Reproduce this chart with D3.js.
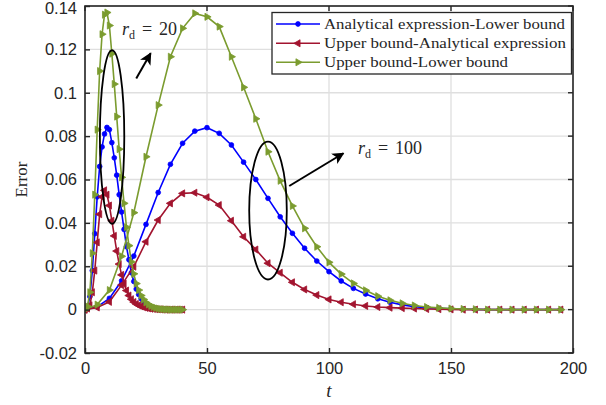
<!DOCTYPE html>
<html>
<head>
<meta charset="utf-8">
<script src="https://cdn.jsdelivr.net/npm/d3@7"></script>
<style>
  body { margin: 0; background: #fff; }
  svg text { fill: #262626; }
</style>
</head>
<body>
<div id="chart"></div>
<script>
// time axes of the two cases
var tRd20 = d3.range(0, 41, 1);
var tRd100 = d3.range(0, 200, 5);

// r_d = 20 (fast case)
var blueRd20 = [0, 0.001, 0.006, 0.018, 0.035, 0.052, 0.066, 0.075, 0.081, 0.084, 0.083, 0.077, 0.07, 0.062, 0.053,
  0.045, 0.037, 0.029, 0.023, 0.017, 0.013, 0.0095, 0.007, 0.005, 0.0036, 0.0025, 0.0018, 0.0012, 0.0008, 0.0005,
  0.0003, 0.0002, 0.0001, 0.0001, 0, 0, 0, 0, 0, 0, 0];
var redRd20 = [0, 0.0005, 0.002, 0.008, 0.018, 0.031, 0.044, 0.052, 0.055, 0.053, 0.048, 0.041, 0.034, 0.027, 0.021,
  0.016, 0.012, 0.0088, 0.0065, 0.0048, 0.0035, 0.0026, 0.002, 0.0015, 0.0011, 0.0008, 0.0006, 0.0004, 0.0003, 0.0002,
  0.0001, 0.0001, 0, 0, 0, 0, 0, 0, 0, 0, 0];
var greenRd20 = [0, 0.0015, 0.008, 0.026, 0.053, 0.083, 0.11, 0.127, 0.136, 0.137, 0.131, 0.118, 0.104, 0.089, 0.074,
  0.061, 0.049, 0.038, 0.0295, 0.022, 0.0165, 0.012, 0.009, 0.0065, 0.0047, 0.0033, 0.0024, 0.0017, 0.0012, 0.0008,
  0.0005, 0.0003, 0.0002, 0.0001, 0.0001, 0, 0, 0, 0, 0, 0];

// r_d = 100 (slow case)
var blueRd100 = [0, 0.0013, 0.0052, 0.0133, 0.0247, 0.0393, 0.054, 0.067, 0.0767, 0.0823, 0.0839, 0.0813, 0.0759,
  0.068, 0.06, 0.0513, 0.0428, 0.0352, 0.0283, 0.0224, 0.0175, 0.0132, 0.0098, 0.0072, 0.005, 0.0034, 0.0022, 0.0014,
  0.0009, 0.0006, 0.0004, 0.0002, 0.0001, 0, 0, 0, 0, 0, 0, 0];
var redRd100 = [0, 0.001, 0.0036, 0.0113, 0.0198, 0.0313, 0.0413, 0.049, 0.0536, 0.0539, 0.0518, 0.0482, 0.041,
  0.0336, 0.0277, 0.0214, 0.017, 0.0126, 0.0093, 0.0067, 0.0047, 0.0034, 0.0025, 0.0017, 0.0012, 0.0009, 0.0007,
  0.0005, 0.0003, 0.0002, 0.0001, 0, 0, 0, 0, 0, 0, 0, 0, 0];
var greenRd100 = [0, 0.0023, 0.009, 0.0246, 0.0447, 0.0705, 0.0943, 0.1166, 0.1297, 0.1366, 0.135, 0.1305, 0.1166,
  0.1025, 0.088, 0.0728, 0.0594, 0.0478, 0.0375, 0.029, 0.0218, 0.0164, 0.0121, 0.0089, 0.0062, 0.0043, 0.0029,
  0.0019, 0.0012, 0.0008, 0.0005, 0.0003, 0.0002, 0, 0, 0, 0, 0, 0, 0];

var legendLabels = [
  "Analytical expression-Lower bound",
  "Upper bound-Analytical expression",
  "Upper bound-Lower bound",
];
var xTicks = [0, 50, 100, 150, 200];
var yTicks = [-0.02, 0, 0.02, 0.04, 0.06, 0.08, 0.1, 0.12, 0.14];

var series = [
  { color: "#0000ff", marker: "dot", rd20: blueRd20, rd100: blueRd100 },
  { color: "#a2142f", marker: "left", rd20: redRd20, rd100: redRd100 },
  { color: "#7b9c2f", marker: "right", rd20: greenRd20, rd100: greenRd100 },
];

var W = 606, H = 405;
var plot = { left: 85, right: 573, top: 6, bottom: 353 };

var svg = d3.select("#chart").append("svg")
  .attr("width", W).attr("height", H)
  .style("font-family", "'Liberation Sans', Arial, sans-serif");

svg.append("defs").append("marker")
  .attr("id", "arrow")
  .attr("viewBox", "0 0 10 10")
  .attr("refX", 9).attr("refY", 5)
  .attr("markerWidth", 6).attr("markerHeight", 6)
  .attr("markerUnits", "strokeWidth")
  .attr("orient", "auto")
  .append("path").attr("d", "M0,0 L10,5 L0,10 L2.5,5 Z").attr("fill", "#000");

var x = d3.scaleLinear().domain([0, 200]).range([plot.left, plot.right]);
var y = d3.scaleLinear().domain([-0.02, 0.14]).range([plot.bottom, plot.top]);

// grid
svg.append("g").selectAll("line").data(xTicks).enter().append("line")
  .attr("x1", d => x(d)).attr("x2", d => x(d))
  .attr("y1", plot.top).attr("y2", plot.bottom)
  .attr("stroke", "#dfdfdf").attr("stroke-width", 1.3);
svg.append("g").selectAll("line").data(yTicks).enter().append("line")
  .attr("x1", plot.left).attr("x2", plot.right)
  .attr("y1", d => y(d)).attr("y2", d => y(d))
  .attr("stroke", "#dfdfdf").attr("stroke-width", 1.3);

// series
var line = d3.line().x(d => x(d[0])).y(d => y(d[1]));
var triangle = d3.symbol().type(d3.symbolTriangle).size(22);
var dot = d3.symbol().type(d3.symbolCircle).size(18);

function drawMarkers(g, pts, s) {
  var sel = g.selectAll("path.m").data(pts).enter().append("path")
    .attr("class", "m")
    .attr("fill", s.color).attr("stroke", s.color).attr("stroke-width", 0.8);
  if (s.marker === "dot") {
    sel.attr("d", dot).attr("transform", d => "translate(" + x(d[0]) + "," + y(d[1]) + ")");
  } else {
    var rot = s.marker === "left" ? -90 : 90;
    sel.attr("d", triangle)
      .attr("transform", d => "translate(" + x(d[0]) + "," + y(d[1]) + ") rotate(" + rot + ")");
  }
}

svg.append("clipPath").attr("id", "clip").append("rect")
  .attr("x", plot.left).attr("y", plot.top)
  .attr("width", plot.right - plot.left).attr("height", plot.bottom - plot.top);

var lines = svg.append("g").attr("clip-path", "url(#clip)");
series.forEach(function (s) {
  [[tRd20, s.rd20], [tRd100, s.rd100]].forEach(function (c) {
    var pts = c[0].map((t, i) => [t, c[1][i]]);
    var g = lines.append("g");
    g.append("path").datum(pts).attr("d", line)
      .attr("fill", "none").attr("stroke", s.color).attr("stroke-width", 1.6);
    drawMarkers(g, pts, s);
  });
});

// frame and axes
var axisColor = "#262626";
svg.append("rect")
  .attr("x", plot.left).attr("y", plot.top)
  .attr("width", plot.right - plot.left).attr("height", plot.bottom - plot.top)
  .attr("fill", "none").attr("stroke", axisColor).attr("stroke-width", 1.6);

var xAxis = d3.axisBottom(x).tickValues(xTicks).tickSize(-5).tickPadding(9).tickFormat(d3.format("d"));
var gx = svg.append("g").attr("transform", "translate(0," + plot.bottom + ")").call(xAxis);
var yAxis = d3.axisLeft(y).tickValues(yTicks).tickSize(-5).tickPadding(8)
  .tickFormat(d => d === 0 ? "0" : String(+d.toFixed(2)));
var gy = svg.append("g").attr("transform", "translate(" + plot.left + ",0)").call(yAxis);
[gx, gy].forEach(function (g) {
  g.select(".domain").remove();
  g.selectAll(".tick line").attr("stroke", axisColor).attr("stroke-width", 1.4);
  g.selectAll(".tick text").attr("fill", axisColor).style("font-size", "16.5px")
    .style("font-family", "'Liberation Sans', Arial, sans-serif");
});
// keep the top label inside the page
gy.selectAll(".tick text").filter(d => d === 0.14).attr("dy", "0.38em").attr("y", 1.5);
// inward ticks on top and right too
svg.append("g").selectAll("line").data(xTicks).enter().append("line")
  .attr("x1", d => x(d)).attr("x2", d => x(d)).attr("y1", plot.top).attr("y2", plot.top + 5)
  .attr("stroke", axisColor).attr("stroke-width", 1.4);
svg.append("g").selectAll("line").data(yTicks).enter().append("line")
  .attr("x1", plot.right - 5).attr("x2", plot.right).attr("y1", d => y(d)).attr("y2", d => y(d))
  .attr("stroke", axisColor).attr("stroke-width", 1.4);

// axis titles
svg.append("text")
  .attr("transform", "translate(27," + y(0.06) + ") rotate(-90)")
  .attr("text-anchor", "middle")
  .style("font-family", "'Liberation Serif', 'Times New Roman', serif")
  .style("font-size", "17px")
  .text("Error");
svg.append("text")
  .attr("x", x(100)).attr("y", 397)
  .attr("text-anchor", "middle")
  .style("font-family", "'Liberation Serif', 'Times New Roman', serif")
  .style("font-style", "italic")
  .style("font-size", "19px")
  .text("t");

// annotations (data coordinates)
var ellipses = [
  { t: 11.1, v: 0.0796, rt: 5.0, rv: 0.0400 },
  { t: 75.0, v: 0.0457, rt: 7.7, rv: 0.0318 },
];
svg.append("g").selectAll("ellipse").data(ellipses).enter().append("ellipse")
  .attr("cx", d => x(d.t)).attr("cy", d => y(d.v))
  .attr("rx", d => x(d.rt) - x(0)).attr("ry", d => y(0) - y(d.rv))
  .attr("fill", "none").attr("stroke", "#000").attr("stroke-width", 1.8);

var arrows = [
  { t0: 21.0, v0: 0.1066, t1: 26.9, v1: 0.1182 },
  { t0: 83.7, v0: 0.0570, t1: 105.9, v1: 0.0721 },
];
svg.append("g").selectAll("line").data(arrows).enter().append("line")
  .attr("x1", d => x(d.t0)).attr("y1", d => y(d.v0))
  .attr("x2", d => x(d.t1)).attr("y2", d => y(d.v1))
  .attr("stroke", "#000").attr("stroke-width", 2)
  .attr("marker-end", "url(#arrow)");

var rdLabels = [
  { t: 15.2, v: 0.1266, value: "20" },
  { t: 111.9, v: 0.0717, value: "100" },
];
rdLabels.forEach(function (d) {
  var x0 = x(d.t), y0 = y(d.v);
  var g = svg.append("g").style("font-family", "'Liberation Serif', 'Times New Roman', serif");
  g.append("text").attr("x", x0).attr("y", y0).style("font-size", "18px").style("font-style", "italic").text("r");
  g.append("text").attr("x", x0 + 7).attr("y", y0 + 4).style("font-size", "12px").text("d");
  g.append("text").attr("x", x0 + 20).attr("y", y0).style("font-size", "18px").text("=");
  g.append("text").attr("x", x0 + 37).attr("y", y0).style("font-size", "18px").text(d.value);
});

// legend
var leg = svg.append("g");
leg.append("rect")
  .attr("x", 272).attr("y", 12.5).attr("width", 299.5).attr("height", 61.5)
  .attr("fill", "#fff").attr("stroke", "#262626").attr("stroke-width", 1.3);
var rowY = [24, 43.3, 62.3];
var textLen = [241, 242, 184];
series.forEach(function (s, i) {
  var ly = rowY[i];
  leg.append("line").attr("x1", 276).attr("x2", 320).attr("y1", ly).attr("y2", ly)
    .attr("stroke", s.color).attr("stroke-width", 1.6);
  drawMarkers(leg.append("g"), [[x.invert(298), y.invert(ly)]], s);
  leg.append("text").attr("x", 324).attr("y", ly + 4.5)
    .attr("textLength", textLen[i]).attr("lengthAdjust", "spacingAndGlyphs")
    .style("font-family", "'Liberation Serif', 'Times New Roman', serif")
    .style("font-size", "15px")
    .text(legendLabels[i]);
});
</script>
</body>
</html>
